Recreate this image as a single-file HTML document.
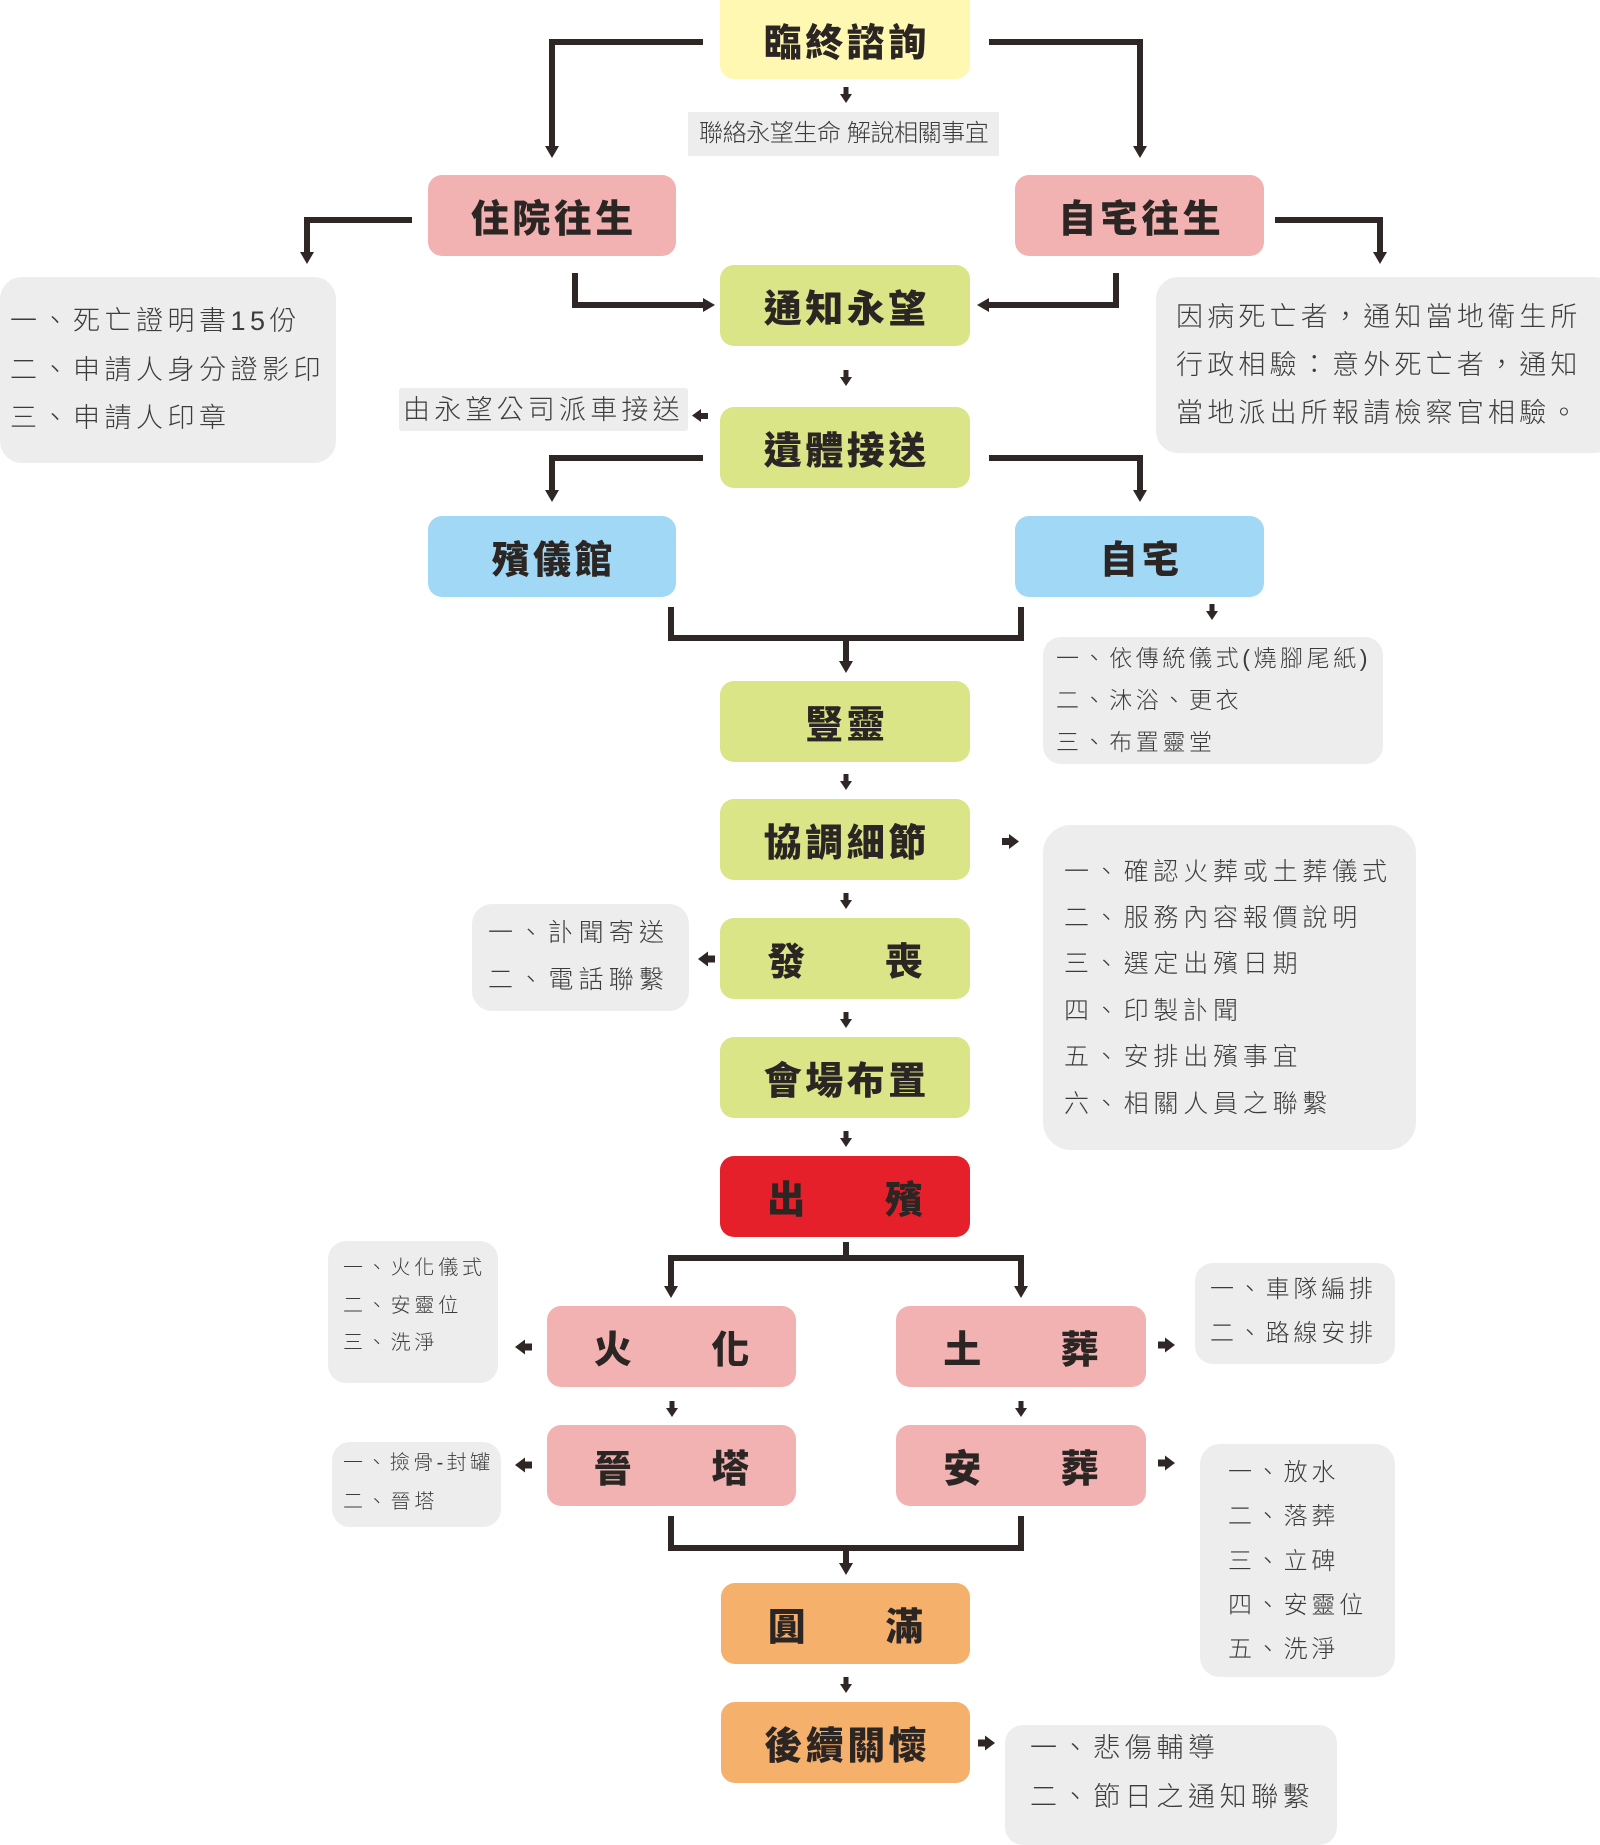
<!DOCTYPE html>
<html><head><meta charset="utf-8">
<style>
html,body{margin:0;padding:0;background:#fff;}
body{width:1600px;height:1822px;position:relative;overflow:hidden;font-family:"Liberation Sans","Noto Sans CJK TC",sans-serif;}
.b{position:absolute;border-radius:14px;display:flex;align-items:center;justify-content:center;color:#2b2523;font-family:"Liberation Sans","Noto Sans CJK TC",sans-serif;font-weight:900;font-size:38px;}
.b span{letter-spacing:3.5px;padding-left:3.5px;white-space:nowrap;}
.b .g{display:flex;gap:76px;}
.b .g i{font-style:normal;}
.y{background:#fff8b2;}
.p{background:#f2b2b2;}
.gr{background:#d9e586;}
.bl{background:#a0d8f5;}
.r{background:#e5202b;}
.o{background:#f5b06c;}
.info{position:absolute;background:#ededed;}
.t{position:absolute;white-space:nowrap;color:#3c3c3c;font-weight:300;font-family:"Liberation Sans","Noto Sans CJK TC",sans-serif;}
svg{position:absolute;left:0;top:0;}
</style></head><body>

<!-- info boxes -->
<div class="info" style="left:688px;top:112px;width:311px;height:44px;"></div>
<div class="t" style="left:699px;top:116px;font-size:24px;line-height:36px;letter-spacing:-0.4px;">聯絡永望生命 解說相關事宜</div>

<div class="info" style="left:0;top:277px;width:336px;height:186px;border-radius:22px;"></div>
<div class="t" style="left:10px;top:303px;font-size:27px;line-height:36px;letter-spacing:4.5px;">一、死亡證明書15份</div>
<div class="t" style="left:10px;top:352px;font-size:27px;line-height:36px;letter-spacing:4.5px;">二、申請人身分證影印</div>
<div class="t" style="left:10px;top:400px;font-size:27px;line-height:36px;letter-spacing:4.5px;">三、申請人印章</div>

<div class="info" style="left:1156px;top:277px;width:460px;height:176px;border-radius:22px;"></div>
<div class="t" style="left:1176px;top:299px;font-size:27px;line-height:36px;letter-spacing:4.2px;">因病死亡者，通知當地衛生所</div>
<div class="t" style="left:1176px;top:347px;font-size:27px;line-height:36px;letter-spacing:4.2px;">行政相驗：意外死亡者，通知</div>
<div class="t" style="left:1176px;top:395px;font-size:27px;line-height:36px;letter-spacing:4.2px;">當地派出所報請檢察官相驗。</div>

<div class="info" style="left:399px;top:388px;width:289px;height:43px;border-radius:3px;"></div>
<div class="t" style="left:403px;top:392px;font-size:27px;line-height:36px;letter-spacing:4.2px;">由永望公司派車接送</div>

<div class="info" style="left:1043px;top:637px;width:340px;height:127px;border-radius:18px;"></div>
<div class="t" style="left:1056px;top:642px;font-size:23px;line-height:32px;letter-spacing:3.6px;">一、依傳統儀式(燒腳尾紙)</div>
<div class="t" style="left:1056px;top:684px;font-size:23px;line-height:32px;letter-spacing:3.6px;">二、沐浴、更衣</div>
<div class="t" style="left:1056px;top:726px;font-size:23px;line-height:32px;letter-spacing:3.6px;">三、布置靈堂</div>

<div class="info" style="left:1043px;top:825px;width:373px;height:325px;border-radius:28px;"></div>
<div class="t" style="left:1064px;top:854px;font-size:25px;line-height:36px;letter-spacing:4.8px;">一、確認火葬或土葬儀式</div>
<div class="t" style="left:1064px;top:900px;font-size:25px;line-height:36px;letter-spacing:4.8px;">二、服務內容報價說明</div>
<div class="t" style="left:1064px;top:946px;font-size:25px;line-height:36px;letter-spacing:4.8px;">三、選定出殯日期</div>
<div class="t" style="left:1064px;top:993px;font-size:25px;line-height:36px;letter-spacing:4.8px;">四、印製訃聞</div>
<div class="t" style="left:1064px;top:1039px;font-size:25px;line-height:36px;letter-spacing:4.8px;">五、安排出殯事宜</div>
<div class="t" style="left:1064px;top:1086px;font-size:25px;line-height:36px;letter-spacing:4.8px;">六、相關人員之聯繫</div>

<div class="info" style="left:472px;top:904px;width:217px;height:107px;border-radius:20px;"></div>
<div class="t" style="left:488px;top:915px;font-size:25px;line-height:36px;letter-spacing:5.2px;">一、訃聞寄送</div>
<div class="t" style="left:488px;top:962px;font-size:25px;line-height:36px;letter-spacing:5.2px;">二、電話聯繫</div>

<div class="info" style="left:328px;top:1241px;width:170px;height:142px;border-radius:18px;"></div>
<div class="t" style="left:343px;top:1253px;font-size:20px;line-height:30px;letter-spacing:3.8px;">一、火化儀式</div>
<div class="t" style="left:343px;top:1291px;font-size:20px;line-height:30px;letter-spacing:3.8px;">二、安靈位</div>
<div class="t" style="left:343px;top:1328px;font-size:20px;line-height:30px;letter-spacing:3.8px;">三、洗淨</div>

<div class="info" style="left:1195px;top:1263px;width:200px;height:101px;border-radius:18px;"></div>
<div class="t" style="left:1210px;top:1273px;font-size:24px;line-height:34px;letter-spacing:3.8px;">一、車隊編排</div>
<div class="t" style="left:1210px;top:1317px;font-size:24px;line-height:34px;letter-spacing:3.8px;">二、路線安排</div>

<div class="info" style="left:332px;top:1442px;width:169px;height:85px;border-radius:18px;"></div>
<div class="t" style="left:343px;top:1448px;font-size:20px;line-height:30px;letter-spacing:3.4px;">一、撿骨-封罐</div>
<div class="t" style="left:343px;top:1487px;font-size:20px;line-height:30px;letter-spacing:3.8px;">二、晉塔</div>

<div class="info" style="left:1200px;top:1444px;width:195px;height:233px;border-radius:20px;"></div>
<div class="t" style="left:1228px;top:1456px;font-size:24px;line-height:34px;letter-spacing:3.8px;">一、放水</div>
<div class="t" style="left:1228px;top:1500px;font-size:24px;line-height:34px;letter-spacing:3.8px;">二、落葬</div>
<div class="t" style="left:1228px;top:1545px;font-size:24px;line-height:34px;letter-spacing:3.8px;">三、立碑</div>
<div class="t" style="left:1228px;top:1589px;font-size:24px;line-height:34px;letter-spacing:3.8px;">四、安靈位</div>
<div class="t" style="left:1228px;top:1633px;font-size:24px;line-height:34px;letter-spacing:3.8px;">五、洗淨</div>

<div class="info" style="left:1005px;top:1725px;width:332px;height:120px;border-radius:18px;"></div>
<div class="t" style="left:1030px;top:1730px;font-size:27px;line-height:36px;letter-spacing:4.6px;">一、悲傷輔導</div>
<div class="t" style="left:1030px;top:1779px;font-size:27px;line-height:36px;letter-spacing:4.6px;">二、節日之通知聯繫</div>

<!-- main boxes -->
<div class="b y" style="left:720px;top:-14px;width:250px;height:93px;padding-top:14px;box-sizing:border-box;"><span>臨終諮詢</span></div>
<div class="b p" style="left:428px;top:175px;width:248px;height:81px;"><span>住院往生</span></div>
<div class="b p" style="left:1015px;top:175px;width:249px;height:81px;"><span>自宅往生</span></div>
<div class="b gr" style="left:720px;top:265px;width:250px;height:81px;"><span>通知永望</span></div>
<div class="b gr" style="left:720px;top:407px;width:250px;height:81px;"><span>遺體接送</span></div>
<div class="b bl" style="left:428px;top:516px;width:248px;height:81px;"><span>殯儀館</span></div>
<div class="b bl" style="left:1015px;top:516px;width:249px;height:81px;"><span>自宅</span></div>
<div class="b gr" style="left:720px;top:681px;width:250px;height:81px;"><span>豎靈</span></div>
<div class="b gr" style="left:720px;top:799px;width:250px;height:81px;"><span>協調細節</span></div>
<div class="b gr" style="left:720px;top:918px;width:250px;height:81px;"><span class="g"><i>發</i><i>喪</i></span></div>
<div class="b gr" style="left:720px;top:1037px;width:250px;height:81px;"><span>會場布置</span></div>
<div class="b r" style="left:720px;top:1156px;width:250px;height:81px;"><span class="g"><i>出</i><i>殯</i></span></div>
<div class="b p" style="left:547px;top:1306px;width:249px;height:81px;"><span class="g"><i>火</i><i>化</i></span></div>
<div class="b p" style="left:896px;top:1306px;width:250px;height:81px;"><span class="g"><i>土</i><i>葬</i></span></div>
<div class="b p" style="left:547px;top:1425px;width:249px;height:81px;"><span class="g"><i>晉</i><i>塔</i></span></div>
<div class="b p" style="left:896px;top:1425px;width:250px;height:81px;"><span class="g"><i>安</i><i>葬</i></span></div>
<div class="b o" style="left:721px;top:1583px;width:249px;height:81px;"><span class="g"><i>圓</i><i>滿</i></span></div>
<div class="b o" style="left:721px;top:1702px;width:249px;height:81px;"><span>後續關懷</span></div>

<svg width="1600" height="1822" viewBox="0 0 1600 1822">
<g fill="none" stroke="#2f2725" stroke-width="6" stroke-linejoin="miter" stroke-linecap="butt">
<path d="M703 42 H552 V148"/>
<path d="M989 42 H1140 V148"/>
<path d="M412 220 H307 V254"/>
<path d="M575 273 V305 H705"/>
<path d="M1275 220 H1380 V254"/>
<path d="M1116 273 V305 H987"/>
<path d="M703 458 H552 V492"/>
<path d="M989 458 H1140 V492"/>
<path d="M671 607 V638 H1021 V607"/>
<path d="M846 638 V663"/>
<path d="M846 1242 V1258"/>
<path d="M671 1288 V1258 H1021 V1288"/>
<path d="M671 1516 V1548 H1021 V1516"/>
<path d="M846 1548 V1565"/>
</g>
<g fill="#2f2725">
<!-- connector heads -->
<polygon points="545,146 559,146 552,158"/>
<polygon points="1133,146 1147,146 1140,158"/>
<polygon points="300,252 314,252 307,264"/>
<polygon points="703,298 703,312 715,305"/>
<polygon points="1373,252 1387,252 1380,264"/>
<polygon points="989,298 989,312 977,305"/>
<polygon points="545,490 559,490 552,502"/>
<polygon points="1133,490 1147,490 1140,502"/>
<polygon points="839,661 853,661 846,673"/>
<polygon points="664,1286 678,1286 671,1298"/>
<polygon points="1014,1286 1028,1286 1021,1298"/>
<polygon points="839,1563 853,1563 846,1575"/>
<!-- small down arrows -->
<g id="d">
<rect x="843.5" y="87" width="5" height="8"/><polygon points="840,94 852,94 846,103"/>
</g>
<rect x="843.5" y="370" width="5" height="8"/><polygon points="840,377 852,377 846,386"/>
<rect x="1209.5" y="604" width="5" height="8"/><polygon points="1206,611 1218,611 1212,620"/>
<rect x="843.5" y="774" width="5" height="8"/><polygon points="840,781 852,781 846,790"/>
<rect x="843.5" y="893" width="5" height="8"/><polygon points="840,900 852,900 846,909"/>
<rect x="843.5" y="1012" width="5" height="8"/><polygon points="840,1019 852,1019 846,1028"/>
<rect x="843.5" y="1131" width="5" height="8"/><polygon points="840,1138 852,1138 846,1147"/>
<rect x="669.5" y="1401" width="5" height="8"/><polygon points="666,1408 678,1408 672,1417"/>
<rect x="1018.5" y="1401" width="5" height="8"/><polygon points="1015,1408 1027,1408 1021,1417"/>
<rect x="843.5" y="1677" width="5" height="8"/><polygon points="840,1684 852,1684 846,1693"/>
<!-- small right arrows -->
<rect x="1002" y="838" width="9" height="7"/><polygon points="1009,834 1009,849 1019,841.5"/>
<rect x="1158" y="1341.5" width="9" height="7"/><polygon points="1165,1337.5 1165,1352.5 1175,1345"/>
<rect x="1158" y="1459.5" width="9" height="7"/><polygon points="1165,1455.5 1165,1470.5 1175,1463"/>
<rect x="978" y="1739.5" width="9" height="7"/><polygon points="985,1735.5 985,1750.5 995,1743"/>
<!-- small left arrows -->
<rect x="699" y="413" width="9" height="6"/><polygon points="701,409 701,422 692,415.5"/>
<rect x="706" y="955.5" width="9" height="7"/><polygon points="708,951.5 708,966.5 698,959"/>
<rect x="523" y="1343.5" width="9" height="7"/><polygon points="525,1339.5 525,1354.5 515,1347"/>
<rect x="523" y="1461.5" width="9" height="7"/><polygon points="525,1457.5 525,1472.5 515,1465"/>
</g>
</svg>
</body></html>
